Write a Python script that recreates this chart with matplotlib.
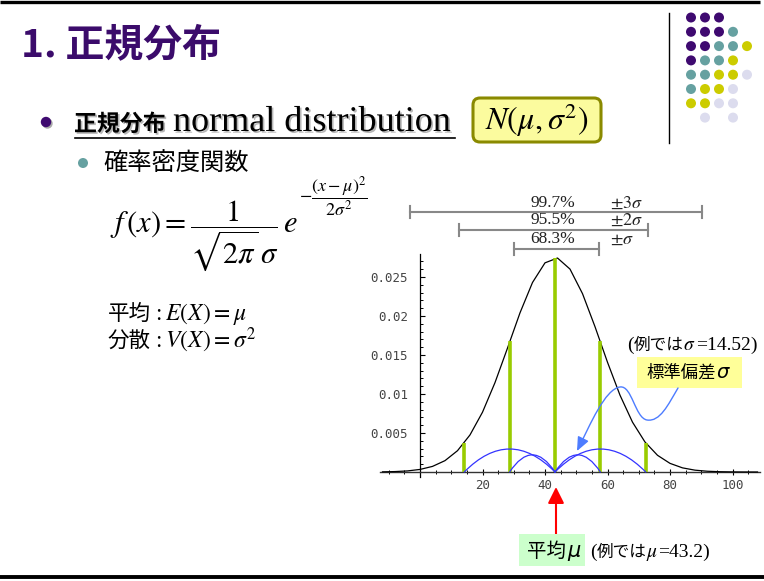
import numpy as np
import matplotlib
matplotlib.use('Agg')
import matplotlib.pyplot as plt
from matplotlib.patches import FancyArrowPatch, FancyBboxPatch, Circle, Rectangle
from matplotlib.path import Path
import matplotlib.transforms as mtransforms
import matplotlib.patheffects as pe

plt.rcParams['mathtext.fontset'] = 'stix'
CJK = 'Noto Sans CJK JP'
SERIF = 'Liberation Serif'

# ---------------- data ----------------
mu = 43.2
sigma = 14.52
curve_x = [-12, -8, -4, 0, 4, 8, 12, 16, 20, 24, 28, 32, 36, 40, 44, 48, 52,
           56, 60, 64, 68, 72, 76, 80, 84, 88, 92, 96, 100, 104, 108]
curve_y = [0.00002, 0.000055, 0.000139, 0.000329, 0.000718, 0.001456, 0.002732,
           0.004754, 0.007666, 0.011463, 0.015886, 0.020406, 0.024296, 0.026816,
           0.027433, 0.026014, 0.022866, 0.018629, 0.014069, 0.009848, 0.006389,
           0.003843, 0.002142, 0.001107, 0.000530, 0.000235, 0.000097, 0.000037,
           0.000013, 0.000004, 0.000001]
bar_x = [14.16, 28.68, 43.2, 57.72, 72.24]
bar_h = [0.00372, 0.0168, 0.02748, 0.0168, 0.00372]
arc_start = [14.16, 28.68, 43.2, 43.2]
arc_end = [43.2, 43.2, 57.72, 72.24]
arc_peak = [0.00295, 0.0022, 0.0022, 0.00295]
range_labels = ['68.3%', '95.5%', '99.7%']
range_sigma = [r'$\pm\sigma$', r'$\pm2\sigma$', r'$\pm3\sigma$']
range_lo = [30.1, 12.5, -3.2]
range_hi = [57.3, 73.0, 90.2]
xticks = [20, 40, 60, 80, 100]
xtick_labels = ['20', '40', '60', '80', '100']
yticks = [0.005, 0.01, 0.015, 0.02, 0.025]
ytick_labels = ['0.005', '0.01', '0.015', '0.02', '0.025']
dot_rows = ['PPP..', 'PPPT.', 'PPTTY', 'PTTY.', 'TTYYL', 'TYYL.', 'YYLL.', '.L.L.']
dot_colors = {'P': '#3f0a70', 'T': '#66a1a1', 'Y': '#cccc00', 'L': '#dcdcee'}

# ---------------- figure & overlays ----------------
W, H = 764, 581
fig = plt.figure(figsize=(W / 100, H / 100), dpi=100)
fig.patch.set_facecolor('white')
renderer = fig.canvas.get_renderer()

bg = fig.add_axes([0, 0, 1, 1], zorder=0)
bg.set_xlim(0, W); bg.set_ylim(H, 0); bg.axis('off')

X0, SX, Y0, SY = 420.0, 3.125, 472.0, 7800.0
xlo, xhi = -12.8, 108.8
ylo, yhi = -0.0007, 0.0279
lpx, rpx = X0 + SX * xlo, X0 + SX * xhi
tpx, bpx = Y0 - SY * yhi, Y0 - SY * ylo
ax = fig.add_axes([lpx / W, 1 - bpx / H, (rpx - lpx) / W, (bpx - tpx) / H], zorder=1)
ax.set_facecolor('none')
ax.set_xlim(xlo, xhi); ax.set_ylim(ylo, yhi)

fg = fig.add_axes([0, 0, 1, 1], zorder=2)
fg.set_xlim(0, W); fg.set_ylim(H, 0); fg.axis('off')


def seq_text(axes, x, y, pieces, gap=0.0):
    """Place text pieces one after another on a common baseline (pixel coords)."""
    for s, kw in pieces:
        t = axes.text(x, y, s, ha='left', va='baseline', **kw)
        x += t.get_window_extent(renderer).width + gap
    return x


# ---------------- slide decoration ----------------
bg.plot([0, 760], [2, 2], color='black', lw=2.4, solid_capstyle='butt')
bg.plot([0, W], [577, 577], color='black', lw=2.8, solid_capstyle='butt')
bg.plot([669, 669], [13, 143], color='black', lw=1.0)
for r, row in enumerate(dot_rows):
    for c, ch in enumerate(row):
        if ch in dot_colors:
            bg.add_patch(Circle((691 + 14 * c, 17.5 + 14.3 * r), 5.0,
                                color=dot_colors[ch], lw=0))

bg.text(21, 45, '1. 正規分布', family=CJK, fontsize=28, fontweight='bold',
        color='#3b0b6b', va='center', ha='left')

shadow = [pe.SimplePatchShadow(offset=(1.2, -1.2), shadow_rgbFace='#999999', alpha=0.7),
          pe.Normal()]
bg.add_patch(Circle((47.5, 123.5), 5.2, color='#aaaaaa', lw=0, zorder=2))
bg.add_patch(Circle((46, 122), 5.2, color='#3f0a70', lw=0, zorder=3))
bg.text(74, 131, '正規分布', family=CJK, fontsize=16.5, fontweight='bold', va='baseline',
        ha='left', path_effects=shadow)
bg.text(173, 131, 'normal distribution', family=SERIF, fontsize=26, va='baseline',
        ha='left', path_effects=shadow)
bg.plot([75, 455], [138, 138], color='black', lw=1.2)

bg.add_patch(FancyBboxPatch((473, 98), 128, 44, boxstyle='round,pad=0,rounding_size=7',
                            fc='#fbfb9e', ec='#8a8a00', lw=2.2))
bg.text(537, 120, r'$N(\mu,\sigma^2)$', fontsize=23, ha='center', va='center')

bg.add_patch(Circle((83, 163), 5.0, color='#66a1a1', lw=0))
bg.text(103, 163, '確率密度関数', family=CJK, fontsize=17.5, va='center', ha='left')

t_main = bg.text(110, 232, r'$f\,(x)=\dfrac{1}{\sqrt{2\pi}\,\sigma}\,e$',
                 fontsize=22, va='baseline', ha='left')
x_e = 110 + t_main.get_window_extent(renderer).width
bg.text(x_e + 1, 197, r'$-\dfrac{(x-\mu)^2}{2\sigma^2}$', fontsize=13,
        va='center', ha='left')

seq_text(bg, 108, 320, [('平均', dict(family=CJK, fontsize=15.5)),
                        (r'$:E(X)=\mu$', dict(fontsize=17))], gap=1)
seq_text(bg, 108, 348, [('分散', dict(family=CJK, fontsize=15.5)),
                        (r'$:V(X)=\sigma^2$', dict(fontsize=17))], gap=1)

# ---------------- chart ----------------
for side in ('top', 'right'):
    ax.spines[side].set_visible(False)
ax.spines['left'].set_position(('data', 0))
ax.spines['bottom'].set_position(('data', 0))
ax.spines['left'].set_linewidth(0.9)
ax.spines['bottom'].set_linewidth(1.0)
ax.spines['bottom'].set_color('#333333')

ax.plot(curve_x, curve_y, color='black', lw=0.9, zorder=3)
ax.vlines(bar_x, 0, bar_h, color='#99cc00', lw=2.6, zorder=4)
for a, b, p in zip(arc_start, arc_end, arc_peak):
    rad = -2 * (p * SY) / ((b - a) * SX)
    ax.add_patch(FancyArrowPatch((a, 0), (b, 0), connectionstyle=f'arc3,rad={rad:.3f}',
                                 arrowstyle='-', color='#3333ff', lw=0.9,
                                 shrinkA=0, shrinkB=0, zorder=5))

ax.set_xticks(xticks, labels=xtick_labels)
ax.set_xticks(np.arange(-10, 110, 5), minor=True)
ax.set_yticks(yticks, labels=ytick_labels)
ax.set_yticks(np.arange(0.001, 0.028, 0.001), minor=True)
ax.tick_params(axis='x', which='major', direction='inout', length=5, width=0.8,
               pad=2.5, labelsize=9, labelcolor='#444444')
ax.tick_params(axis='x', which='minor', direction='inout', length=3.2, width=0.7)
ax.tick_params(axis='y', which='major', direction='in', length=3.5, width=0.8,
               pad=8.5, labelsize=9, labelcolor='#444444')
ax.tick_params(axis='y', which='minor', direction='in', length=2.2, width=0.7)
for lab in ax.get_xticklabels() + ax.get_yticklabels():
    lab.set_family('DejaVu Sans Mono')

# range bars above the curve
trans = mtransforms.blended_transform_factory(ax.transData, fg.transData)
bar_ypx = [249, 230, 212]
lab_ypx = [239, 220, 203]
for lo, hi, yp, ly, lab, sl in zip(range_lo, range_hi, bar_ypx, lab_ypx,
                                   range_labels, range_sigma):
    fg.plot([lo, hi], [yp, yp], color='#888888', lw=1.5, transform=trans)
    for xe in (lo, hi):
        fg.plot([xe, xe], [yp - 6, yp + 6], color='#888888', lw=1.5, transform=trans)
    fg.text(553, ly, lab, family=SERIF, fontsize=12.5, ha='center', va='center',
            color='#222222')
    fg.text(610, ly, sl, fontsize=13, ha='left', va='center', color='#222222')

# annotations
seq_text(fg, 627, 350, [('(', dict(family=SERIF, fontsize=14)),
                        ('例では', dict(family=CJK, fontsize=12)),
                        (r'$\sigma$', dict(fontsize=14)),
                        ('=14.52)', dict(family=SERIF, fontsize=14))])
fg.add_patch(Rectangle((637, 357), 105, 31, fc='#ffff99', ec='none'))
seq_text(fg, 646, 378, [('標準偏差', dict(family=CJK, fontsize=12.5)),
                        ('σ', dict(family='DejaVu Sans', style='italic', fontsize=14))],
         gap=1)

verts = [(678, 388), (668, 405), (660, 422), (647, 420),
         (635, 418), (632, 385), (620, 387),
         (605, 389), (590, 425), (577, 451)]
codes = [Path.MOVETO] + [Path.CURVE4] * 9
fg.add_patch(FancyArrowPatch(path=Path(verts, codes),
                             arrowstyle='-|>,head_length=0.7,head_width=0.3',
                             mutation_scale=12, color='#4d7cff', lw=1.0))

fg.add_patch(FancyArrowPatch((556, 534), (556, 487),
                             arrowstyle='-|>,head_length=0.7,head_width=0.35',
                             mutation_scale=14, color='red', lw=1.5, shrinkA=0, shrinkB=0))
fg.add_patch(Rectangle((519, 534), 66, 32, fc='#ccffcc', ec='none'))
seq_text(fg, 527, 557, [('平均', dict(family=CJK, fontsize=14)),
                        ('μ', dict(family='DejaVu Sans', style='italic', fontsize=15))],
         gap=1)
seq_text(fg, 590, 557, [('(', dict(family=SERIF, fontsize=14)),
                        ('例では', dict(family=CJK, fontsize=12)),
                        (r'$\mu$', dict(fontsize=14)),
                        ('=43.2)', dict(family=SERIF, fontsize=14))])

fig.savefig('out.png', dpi=100)
